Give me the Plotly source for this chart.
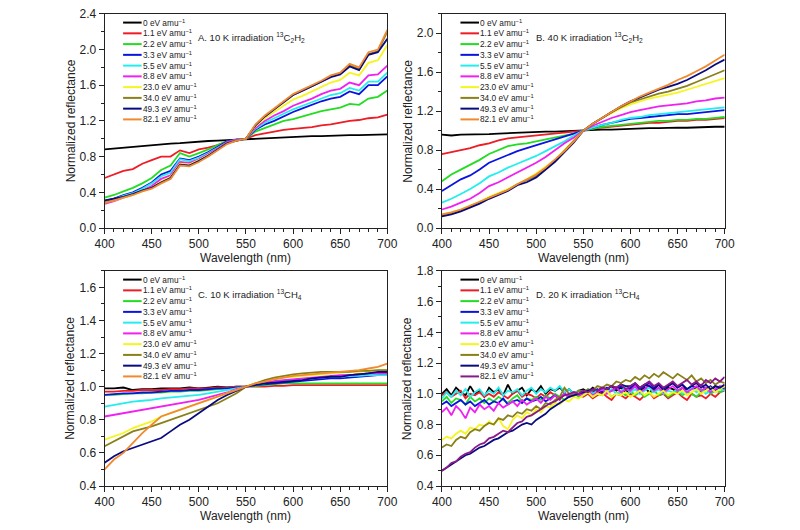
import plotly.graph_objects as go

# ---------------- data ----------------
WL = list(range(400, 701, 10))          # panels A, B, C
WL_D = list(range(400, 701, 5))         # panel D

LABELS = ["0 eV amu<sup>−1</sup>", "1.1 eV amu<sup>−1</sup>", "2.2 eV amu<sup>−1</sup>",
          "3.3 eV amu<sup>−1</sup>", "5.5 eV amu<sup>−1</sup>", "8.8 eV amu<sup>−1</sup>",
          "23.0 eV amu<sup>−1</sup>", "34.0 eV amu<sup>−1</sup>", "49.3 eV amu<sup>−1</sup>",
          "82.1 eV amu<sup>−1</sup>"]

COLORS_ABC = ["#000000", "#ee1c24", "#22dd22", "#0a14e0", "#22eeee", "#f020f0",
              "#f5f520", "#8a8018", "#0a0a80", "#f08a30"]
COLORS_D = ["#000000", "#ee1c24", "#22dd22", "#0a14e0", "#22eeee", "#f020f0",
            "#f5f520", "#8a8018", "#0a0a80", "#8a1a8a"]

A_0 = [0.88,0.89,0.90,0.91,0.92,0.93,0.94,0.945,0.95,0.96,0.97,0.975,0.98,0.985,0.99,1.00,1.005,1.01,1.015,1.02,1.02,1.025,1.03,1.03,1.035,1.04,1.04,1.04,1.045,1.045,1.05]
A_1 = [0.56,0.60,0.64,0.66,0.72,0.76,0.80,0.80,0.87,0.84,0.88,0.90,0.93,0.97,0.98,1.00,1.04,1.06,1.08,1.10,1.11,1.12,1.13,1.15,1.16,1.18,1.20,1.21,1.23,1.24,1.27]
A_2 = [0.34,0.37,0.41,0.45,0.50,0.56,0.65,0.70,0.84,0.80,0.84,0.88,0.93,0.97,0.99,1.00,1.08,1.12,1.16,1.20,1.22,1.25,1.28,1.31,1.33,1.35,1.39,1.38,1.45,1.47,1.54]
A_3 = [0.30,0.33,0.37,0.40,0.45,0.51,0.60,0.64,0.78,0.76,0.80,0.85,0.91,0.97,0.99,1.00,1.10,1.16,1.20,1.25,1.30,1.34,1.38,1.42,1.45,1.47,1.53,1.50,1.60,1.60,1.70]
A_4 = [0.29,0.32,0.36,0.39,0.44,0.50,0.58,0.62,0.77,0.75,0.79,0.84,0.90,0.96,0.99,1.00,1.11,1.18,1.23,1.28,1.33,1.37,1.41,1.45,1.49,1.51,1.57,1.54,1.64,1.64,1.74]
A_5 = [0.27,0.30,0.34,0.37,0.42,0.47,0.55,0.59,0.74,0.73,0.77,0.83,0.89,0.96,0.99,1.00,1.12,1.20,1.26,1.31,1.37,1.41,1.45,1.50,1.54,1.56,1.63,1.60,1.71,1.72,1.82]
A_6 = [0.29,0.31,0.34,0.37,0.41,0.45,0.52,0.57,0.72,0.71,0.76,0.82,0.88,0.95,0.98,1.00,1.14,1.23,1.30,1.37,1.44,1.48,1.53,1.58,1.63,1.66,1.74,1.71,1.85,1.88,2.05]
A_7 = [0.30,0.32,0.35,0.38,0.42,0.45,0.51,0.56,0.71,0.70,0.75,0.81,0.88,0.95,0.98,1.00,1.15,1.25,1.33,1.41,1.49,1.54,1.59,1.64,1.70,1.73,1.82,1.78,1.95,1.98,2.20]
A_8 = [0.31,0.33,0.35,0.38,0.42,0.45,0.51,0.56,0.71,0.70,0.75,0.81,0.88,0.95,0.98,1.00,1.15,1.25,1.33,1.41,1.49,1.54,1.59,1.64,1.69,1.72,1.81,1.77,1.94,1.97,2.12]
A_9 = [0.28,0.31,0.34,0.37,0.41,0.44,0.50,0.55,0.70,0.69,0.74,0.80,0.87,0.94,0.98,1.00,1.16,1.26,1.34,1.42,1.50,1.55,1.60,1.65,1.71,1.74,1.84,1.80,1.97,2.00,2.22]

B_0 = [0.96,0.95,0.96,0.96,0.96,0.965,0.97,0.975,0.98,0.98,0.985,0.99,0.99,0.995,1.00,1.00,1.005,1.01,1.01,1.015,1.02,1.02,1.025,1.025,1.03,1.03,1.03,1.035,1.035,1.04,1.04]
B_1 = [0.76,0.78,0.80,0.82,0.85,0.87,0.90,0.92,0.93,0.94,0.95,0.96,0.97,0.98,0.99,1.00,1.02,1.03,1.04,1.05,1.06,1.07,1.08,1.08,1.09,1.10,1.10,1.11,1.11,1.12,1.13]
B_2 = [0.48,0.55,0.60,0.65,0.70,0.76,0.80,0.84,0.86,0.87,0.89,0.91,0.93,0.95,0.97,1.00,1.02,1.04,1.05,1.06,1.07,1.08,1.09,1.10,1.10,1.11,1.11,1.12,1.12,1.13,1.14]
B_3 = [0.38,0.44,0.50,0.54,0.60,0.67,0.71,0.75,0.79,0.82,0.85,0.88,0.91,0.94,0.97,1.00,1.03,1.06,1.08,1.10,1.12,1.13,1.14,1.15,1.16,1.17,1.17,1.18,1.19,1.20,1.21]
B_4 = [0.26,0.30,0.35,0.40,0.46,0.53,0.57,0.62,0.66,0.70,0.74,0.79,0.84,0.89,0.95,1.00,1.03,1.06,1.08,1.11,1.13,1.14,1.16,1.17,1.18,1.19,1.20,1.21,1.22,1.23,1.24]
B_5 = [0.19,0.22,0.26,0.30,0.36,0.43,0.47,0.52,0.57,0.62,0.67,0.73,0.80,0.87,0.93,1.00,1.05,1.09,1.13,1.16,1.19,1.21,1.23,1.25,1.26,1.27,1.28,1.30,1.31,1.33,1.34]
B_6 = [0.14,0.16,0.19,0.23,0.27,0.32,0.36,0.40,0.45,0.50,0.56,0.63,0.70,0.80,0.90,1.00,1.07,1.13,1.18,1.23,1.27,1.30,1.33,1.35,1.37,1.39,1.42,1.45,1.48,1.51,1.54]
B_7 = [0.13,0.15,0.18,0.22,0.26,0.31,0.35,0.39,0.45,0.49,0.54,0.61,0.69,0.79,0.89,1.00,1.07,1.13,1.19,1.24,1.29,1.32,1.35,1.38,1.40,1.43,1.46,1.50,1.54,1.58,1.62]
B_8 = [0.12,0.14,0.17,0.21,0.25,0.30,0.34,0.38,0.44,0.47,0.52,0.60,0.68,0.78,0.88,1.00,1.07,1.13,1.19,1.25,1.30,1.34,1.38,1.42,1.45,1.48,1.52,1.57,1.62,1.68,1.73]
B_9 = [0.14,0.16,0.19,0.23,0.27,0.31,0.35,0.39,0.45,0.50,0.55,0.62,0.70,0.79,0.89,1.00,1.07,1.13,1.19,1.25,1.30,1.35,1.39,1.43,1.47,1.52,1.56,1.61,1.66,1.72,1.78]

C_0 = [0.99,0.99,0.995,0.98,0.985,0.985,0.99,0.99,0.99,0.995,0.99,0.995,1.00,0.995,1.00,1.00,1.01,1.02,1.03,1.035,1.04,1.045,1.05,1.055,1.06,1.065,1.07,1.075,1.08,1.085,1.09]
C_1 = [0.97,0.97,0.975,0.975,0.98,0.98,0.98,0.985,0.985,0.99,0.99,0.99,0.995,0.995,1.00,1.00,1.00,1.00,1.005,1.005,1.01,1.01,1.01,1.01,1.01,1.01,1.01,1.01,1.01,1.01,1.01]
C_2 = [0.95,0.95,0.955,0.96,0.96,0.965,0.965,0.97,0.97,0.975,0.975,0.98,0.985,0.99,0.995,1.00,1.005,1.01,1.015,1.02,1.02,1.02,1.02,1.02,1.02,1.02,1.02,1.02,1.02,1.02,1.02]
C_3 = [0.95,0.955,0.96,0.96,0.965,0.965,0.97,0.975,0.975,0.98,0.98,0.985,0.99,0.99,0.995,1.00,1.01,1.015,1.02,1.025,1.03,1.035,1.04,1.045,1.05,1.05,1.055,1.06,1.065,1.07,1.07]
C_4 = [0.88,0.89,0.90,0.91,0.915,0.92,0.93,0.935,0.94,0.945,0.95,0.96,0.97,0.98,0.99,1.00,1.01,1.02,1.03,1.035,1.04,1.045,1.05,1.055,1.06,1.06,1.065,1.065,1.07,1.07,1.07]
C_5 = [0.82,0.83,0.84,0.85,0.86,0.87,0.88,0.89,0.90,0.91,0.92,0.935,0.95,0.965,0.985,1.00,1.015,1.025,1.035,1.04,1.045,1.05,1.055,1.06,1.065,1.07,1.07,1.075,1.08,1.08,1.08]
C_6 = [0.68,0.70,0.72,0.75,0.77,0.79,0.82,0.84,0.86,0.88,0.90,0.92,0.94,0.96,0.98,1.00,1.02,1.035,1.045,1.055,1.06,1.065,1.07,1.075,1.08,1.085,1.09,1.09,1.095,1.10,1.10]
C_7 = [0.64,0.67,0.70,0.73,0.745,0.76,0.78,0.80,0.82,0.84,0.86,0.88,0.90,0.93,0.96,1.00,1.02,1.04,1.055,1.065,1.075,1.08,1.085,1.09,1.09,1.09,1.09,1.095,1.095,1.10,1.10]
C_8 = [0.54,0.58,0.61,0.63,0.65,0.67,0.69,0.73,0.77,0.80,0.84,0.88,0.92,0.95,0.975,1.00,1.01,1.02,1.025,1.03,1.035,1.04,1.05,1.055,1.06,1.06,1.07,1.075,1.08,1.09,1.09]
C_9 = [0.50,0.56,0.60,0.66,0.72,0.77,0.82,0.84,0.86,0.88,0.90,0.92,0.94,0.96,0.98,1.00,1.02,1.03,1.045,1.055,1.065,1.07,1.075,1.08,1.085,1.09,1.095,1.10,1.11,1.12,1.14]

D_0 = [1.00,1.03,0.99,1.04,1.01,0.99,1.05,1.00,1.02,0.98, 1.04,1.01,1.03,0.99,1.06,1.00,1.02,1.04,0.99,1.03,
       1.01,1.05,1.00,1.03,1.02,1.04,1.01,1.03,1.00,1.02, 1.03,1.01,1.04,1.02,1.00,1.03,1.05,1.02,1.04,1.01,
       1.03,1.05,1.02,1.04,1.01,1.03,1.06,1.02,1.04,1.03, 1.01,1.04,1.02,1.05,1.03,1.01,1.04,1.02,1.05,1.03, 1.04]
D_1 = [0.99,1.01,0.98,1.00,1.02,0.97,1.00,0.99,1.01,0.98, 1.00,0.98,1.01,0.99,0.97,1.00,1.02,0.98,1.00,0.99,
       0.97,1.00,0.98,1.01,0.99,0.96,1.00,0.98,1.01,0.99, 0.98,1.00,0.97,0.99,1.01,0.98,0.96,1.00,0.99,0.97,
       1.00,0.98,0.96,0.99,1.01,0.97,0.99,1.00,0.97,0.99, 1.01,0.98,0.96,1.00,0.98,0.99,0.97,1.00,0.98,1.01, 1.02]
D_2 = [0.95,0.98,0.94,0.97,0.96,0.93,0.98,0.95,0.97,0.94, 0.97,0.95,0.98,0.96,0.94,0.97,0.99,0.95,0.97,0.96,
       0.98,0.96,0.99,0.97,1.00,0.98,0.96,0.99,1.01,0.98, 0.99,1.01,0.98,1.00,0.99,1.02,0.98,1.00,1.01,0.99,
       1.02,0.99,1.01,0.98,1.00,1.02,0.99,1.01,0.98,1.00, 1.02,0.99,1.01,1.00,0.98,1.01,1.03,1.00,1.02,1.01, 1.03]
D_3 = [0.93,0.95,0.92,0.94,0.96,0.93,0.95,0.92,0.94,0.96, 0.93,0.95,0.94,0.97,0.93,0.95,0.96,0.94,0.97,0.95,
       0.96,0.98,0.95,0.97,0.99,0.97,1.00,0.98,1.00,1.02, 1.00,1.02,1.01,1.03,1.01,1.04,1.02,1.03,1.05,1.02,
       1.04,1.06,1.03,1.05,1.07,1.04,1.06,1.03,1.05,1.07, 1.04,1.06,1.03,1.05,1.04,1.06,1.03,1.05,1.02,1.04, 1.03]
D_4 = [0.97,1.01,0.98,1.02,0.99,1.03,0.98,1.01,1.03,0.99, 1.02,1.00,1.04,0.99,1.02,1.01,1.03,0.99,1.02,1.04,
       1.00,1.03,1.01,1.04,1.02,1.05,1.01,1.03,1.00,1.02, 1.01,1.03,1.00,1.02,1.04,1.01,1.03,1.00,1.02,1.04,
       1.01,1.03,1.00,1.02,1.04,1.01,1.03,1.00,1.02,1.01, 1.03,1.00,1.02,1.04,1.01,1.03,1.00,1.02,1.01,1.03, 1.02]
D_5 = [0.88,0.91,0.86,0.92,0.89,0.84,0.91,0.88,0.93,0.90, 0.92,0.89,0.94,0.91,0.93,0.95,0.92,0.96,0.93,0.95,
       0.97,0.94,0.98,0.96,0.99,0.97,1.00,0.98,1.01,0.99, 1.00,1.02,0.99,1.01,1.03,1.00,1.02,1.04,1.01,1.03,
       1.02,1.05,1.01,1.03,1.06,1.02,1.04,1.01,1.03,1.05, 1.02,1.04,1.01,1.03,1.05,1.02,1.04,1.01,1.03,1.05, 1.04]
D_6 = [0.70,0.72,0.71,0.74,0.76,0.74,0.78,0.77,0.80,0.79, 0.82,0.80,0.84,0.79,0.77,0.83,0.86,0.84,0.88,0.86,
       0.90,0.88,0.92,0.91,0.94,0.93,0.96,0.95,0.98,0.97, 0.99,1.01,0.98,1.00,0.99,1.02,0.98,1.00,0.99,1.01,
       0.98,1.00,1.02,0.99,1.01,0.98,1.00,1.02,0.99,1.01, 1.00,1.02,0.99,1.01,1.03,1.00,1.02,1.04,1.01,1.03, 1.05]
D_7 = [0.65,0.67,0.66,0.70,0.72,0.71,0.75,0.77,0.76,0.79, 0.81,0.80,0.84,0.83,0.86,0.85,0.88,0.87,0.90,0.89,
       0.92,0.90,0.94,0.93,0.96,0.98,1.04,1.00,0.99,1.02, 1.01,1.03,1.02,1.05,1.04,1.06,1.05,1.08,1.07,1.09,
       1.08,1.11,1.09,1.12,1.10,1.13,1.11,1.14,1.12,1.10, 1.13,1.11,1.09,1.12,1.08,1.10,1.07,1.09,1.06,1.08, 1.07]
D_8 = [0.50,0.52,0.54,0.56,0.58,0.60,0.61,0.63,0.65,0.66, 0.68,0.70,0.71,0.73,0.75,0.76,0.78,0.80,0.81,0.80,
       0.83,0.85,0.87,0.90,0.92,0.94,0.96,0.98,0.99,1.00, 1.01,1.02,1.03,1.02,1.04,1.03,1.05,1.04,1.06,1.05,
       1.05,1.07,1.04,1.06,1.05,1.03,1.06,1.04,1.05,1.07, 1.04,1.06,1.03,1.05,1.07,1.04,1.06,1.03,1.05,1.04, 1.06]
D_9 = [0.50,0.52,0.55,0.56,0.59,0.61,0.62,0.65,0.67,0.68, 0.71,0.72,0.74,0.76,0.75,0.78,0.81,0.82,0.85,0.86,
       0.88,0.90,0.92,0.94,0.95,0.97,0.99,1.00,1.01,1.00, 1.02,1.01,1.03,1.02,1.04,1.03,1.05,1.04,1.06,1.03,
       1.05,1.07,1.04,1.06,1.08,1.05,1.07,1.04,1.06,1.08, 1.05,1.07,1.09,1.06,1.08,1.05,1.09,1.07,1.10,1.08, 1.11]

PANELS = [
    dict(name="A", x=WL, ys=[A_0,A_1,A_2,A_3,A_4,A_5,A_6,A_7,A_8,A_9], colors=COLORS_ABC,
         yrange=[0, 2.4], dtick=0.4, minor=0.2,
         title="A. 10 K irradiation <sup>13</sup>C<sub>2</sub>H<sub>2</sub>"),
    dict(name="B", x=WL, ys=[B_0,B_1,B_2,B_3,B_4,B_5,B_6,B_7,B_8,B_9], colors=COLORS_ABC,
         yrange=[0, 2.2], dtick=0.4, minor=0.2,
         title="B. 40 K irradiation <sup>13</sup>C<sub>2</sub>H<sub>2</sub>"),
    dict(name="C", x=WL, ys=[C_0,C_1,C_2,C_3,C_4,C_5,C_6,C_7,C_8,C_9], colors=COLORS_ABC,
         yrange=[0.4, 1.7], dtick=0.2, minor=0.1,
         title="C. 10 K irradiation <sup>13</sup>CH<sub>4</sub>"),
    dict(name="D", x=WL_D, ys=[D_0,D_1,D_2,D_3,D_4,D_5,D_6,D_7,D_8,D_9], colors=COLORS_D,
         yrange=[0.4, 1.8], dtick=0.2, minor=0.1,
         title="D. 20 K irradiation <sup>13</sup>CH<sub>4</sub>"),
]

# ---------------- layout geometry (pixels) ----------------
W, H = 800, 530
BOX = {"A": (97, 387, 7, 227), "B": (443, 733, 7, 227),
       "C": (97, 387, 271, 492), "D": (443, 733, 271, 492)}
FONT = "Liberation Sans, Arial, sans-serif"

def px(x):
    return x / W

def py(y):
    return 1 - y / H

fig = go.Figure()
layout = dict(width=W, height=H, margin=dict(l=0, r=0, t=0, b=0),
              paper_bgcolor="white", plot_bgcolor="white", showlegend=False,
              font=dict(family=FONT, size=12, color="#222"))
annotations = []
shapes = []

for i, p in enumerate(PANELS):
    n = "" if i == 0 else str(i + 1)
    xa, ya = "x" + n, "y" + n
    x0, x1, y0, y1 = BOX[p["name"]]
    for k, (yv, col) in enumerate(zip(p["ys"], p["colors"])):
        fig.add_trace(go.Scatter(x=p["x"], y=yv, mode="lines", xaxis=xa, yaxis=ya,
                                 line=dict(color=col, width=1.8), name=LABELS[k],
                                 showlegend=False))
    common = dict(showline=True, linecolor="#222", linewidth=1, mirror=True,
                  showgrid=False, zeroline=False, ticks="outside", ticklen=5,
                  tickcolor="#222", tickfont=dict(size=12, color="#222", family=FONT))
    layout["xaxis" + n] = dict(common, domain=[px(x0), px(x1)], anchor=ya,
                               range=[400, 700], tick0=400, dtick=50,
                               minor=dict(dtick=10, ticklen=3, ticks="outside", tickcolor="#222"))
    layout["yaxis" + n] = dict(common, domain=[py(y1), py(y0)], anchor=xa,
                               range=p["yrange"], tick0=0, dtick=p["dtick"], tickformat=".1f",
                               minor=dict(dtick=p["minor"], ticklen=3, ticks="outside", tickcolor="#222"))
    # axis titles
    annotations.append(dict(text="Wavelength (nm)", xref="paper", yref="paper",
                            x=px((x0 + x1) / 2), y=py(y1 + 31), showarrow=False,
                            font=dict(size=12, color="#222"), xanchor="center", yanchor="middle"))
    annotations.append(dict(text="Normalized reflectance", xref="paper", yref="paper",
                            x=px(x0 - 35), y=py((y0 + y1) / 2), showarrow=False, textangle=-90,
                            font=dict(size=12, color="#222"), xanchor="center", yanchor="middle"))
    # panel title
    annotations.append(dict(text=p["title"], xref="paper", yref="paper",
                            x=px(x0 + 94), y=py(y0 + 24), showarrow=False,
                            font=dict(size=9.5, color="#222"), xanchor="left", yanchor="middle"))
    # legend
    for k in range(10):
        yy = y0 + 9 + 11.05 * k
        shapes.append(dict(type="line", xref="paper", yref="paper",
                           x0=px(x0 + 19), x1=px(x0 + 38), y0=py(yy), y1=py(yy),
                           line=dict(color=p["colors"][k], width=2)))
        annotations.append(dict(text=LABELS[k], xref="paper", yref="paper",
                                x=px(x0 + 37), y=py(yy), showarrow=False,
                                font=dict(size=8.3, color="#222"), xanchor="left", yanchor="middle"))

layout["annotations"] = annotations
layout["shapes"] = shapes
fig.update_layout(**layout)
fig.write_html("out.html")
